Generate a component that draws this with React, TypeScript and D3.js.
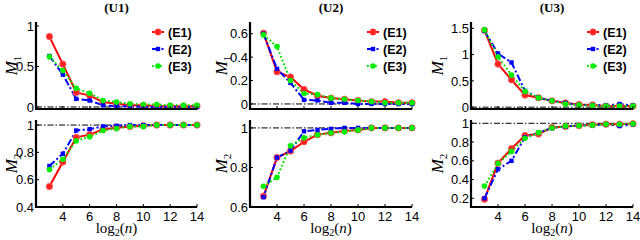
import React from "react";
import * as d3 from "d3";

const xs = [3, 4, 5, 6, 7, 8, 9, 10, 11, 12, 13, 14];
const xTicks = [4, 6, 8, 10, 12, 14];
const panelTitles = ["(U1)", "(U2)", "(U3)"];
const seriesNames = ["(E1)", "(E2)", "(E3)"];

// U1
const u1M1E1 = [0.87, 0.53, 0.18, 0.14, 0.06, 0.04, 0.02, 0.02, 0.01, 0.01, 0.01, 0.01];
const u1M1E2 = [0.63, 0.4, 0.1, 0.08, 0.02, 0.01, 0.01, 0.0, 0.0, 0.0, 0.0, 0.0];
const u1M1E3 = [0.62, 0.45, 0.23, 0.17, 0.08, 0.06, 0.04, 0.03, 0.03, 0.02, 0.02, 0.02];
const u1M2E1 = [0.55, 0.73, 0.91, 0.93, 0.97, 0.98, 0.99, 0.995, 1.0, 1.0, 1.0, 1.0];
const u1M2E2 = [0.7, 0.79, 0.96, 0.97, 0.99, 0.995, 1.0, 1.0, 1.0, 1.0, 1.0, 1.0];
const u1M2E3 = [0.675, 0.75, 0.885, 0.915, 0.96, 0.975, 0.99, 0.99, 1.0, 1.0, 1.0, 1.0];
// U2
const u2M1E1 = [0.605, 0.275, 0.23, 0.125, 0.07, 0.05, 0.04, 0.03, 0.02, 0.02, 0.01, 0.01];
const u2M1E2 = [0.6, 0.3, 0.18, 0.035, 0.03, 0.01, 0.01, 0.0, 0.0, 0.0, 0.0, 0.0];
const u2M1E3 = [0.59, 0.49, 0.2, 0.09, 0.08, 0.05, 0.04, 0.03, 0.02, 0.01, 0.01, 0.01];
const u2M2E1 = [0.655, 0.85, 0.883, 0.93, 0.966, 0.975, 0.985, 0.99, 1.0, 1.0, 1.0, 1.0];
const u2M2E2 = [0.65, 0.85, 0.885, 0.983, 0.99, 0.995, 1.0, 1.0, 1.0, 1.0, 1.0, 1.0];
const u2M2E3 = [0.705, 0.75, 0.91, 0.95, 0.965, 0.975, 0.98, 0.99, 1.0, 1.0, 1.0, 1.0];
// U3
const u3M1E1 = [1.46, 0.82, 0.52, 0.23, 0.18, 0.12, 0.08, 0.05, 0.04, 0.02, 0.02, 0.02];
const u3M1E2 = [1.45, 1.02, 0.85, 0.31, 0.18, 0.12, 0.08, 0.04, 0.04, 0.03, 0.06, 0.03];
const u3M1E3 = [1.47, 0.96, 0.61, 0.3, 0.18, 0.12, 0.06, 0.04, 0.03, 0.02, 0.02, 0.02];
const u3M2E1 = [0.19, 0.575, 0.73, 0.87, 0.885, 0.955, 0.965, 0.975, 0.985, 0.99, 0.99, 0.995];
const u3M2E2 = [0.2, 0.51, 0.6, 0.85, 0.9, 0.95, 0.965, 0.98, 0.98, 0.99, 0.97, 0.99];
const u3M2E3 = [0.33, 0.57, 0.7, 0.84, 0.9, 0.95, 0.97, 0.975, 0.98, 0.99, 0.99, 0.995];

const m1Ticks = [[0, 0.5, 1], [0, 0.2, 0.4, 0.6], [0, 0.5, 1, 1.5]];
const m2Ticks = [[0.4, 0.6, 0.8, 1], [0.6, 0.8, 1], [0.2, 0.4, 0.6, 0.8, 1]];
const m1Domains = [[-0.025, 1.05], [-0.043, 0.7], [-0.035, 1.62]];
const m2Domains = [[0.4, 1.037], [0.6, 1.04], [0.107, 1.035]];
const m1Ref = 0;
const m2Ref = 1;

const m1Data = [
  [u1M1E1, u1M1E2, u1M1E3],
  [u2M1E1, u2M1E2, u2M1E3],
  [u3M1E1, u3M1E2, u3M1E3],
];
const m2Data = [
  [u1M2E1, u1M2E2, u1M2E3],
  [u2M2E1, u2M2E2, u2M2E3],
  [u3M2E1, u3M2E2, u3M2E3],
];

// layout
const panelX = [[36, 197], [250, 412], [471, 633]];
const yLabelX = [11, 221, 437];
const topRange = [109, 22];
const botRange = [207, 120];
const legendX = [152, 367, 587];
const legendY = [32, 49, 66];

const colors = ["#ff0000", "#0000ff", "#00e000"];
const dashes = [null, "7,2.5,2,2.5", "1.8,2.2"];

const tickFont = "'Liberation Sans', Arial, sans-serif";
const serif = "'Liberation Serif', 'DejaVu Serif', serif";

function Marker({ k, x, y }: { k: number; x: number; y: number }) {
  if (k === 0)
    return <circle cx={x} cy={y} r={3.2} fill="#ff2020" stroke="#ff6060" strokeWidth={0.8} />;
  if (k === 1)
    return <rect x={x - 2.2} y={y - 2.2} width={4.4} height={4.4} fill="#0000ff" />;
  return <circle cx={x} cy={y} r={2.8} fill="#00ee00" />;
}

function Plot({
  xr, yr, domain, ticks, data, ref0, showXLabels, legend, lx,
}: any) {
  const x = d3.scaleLinear().domain([2, 14]).range(xr);
  const y = d3.scaleLinear().domain(domain).range(yr);
  const line = d3.line<number>().x((_, i) => x(xs[i])).y((v) => y(v));
  return (
    <g>
      <line x1={xr[0]} x2={xr[1]} y1={y(ref0)} y2={y(ref0)} stroke="#000" strokeWidth={1} strokeDasharray="6,2,1.5,2" />
      {data.map((s: number[], k: number) => (
        <path key={k} d={line(s) || ""} fill="none" stroke={colors[k]} strokeWidth={2} strokeDasharray={dashes[k] || undefined} />
      ))}
      {data.map((s: number[], k: number) =>
        s.map((v, i) => <Marker key={k + "-" + i} k={k} x={x(xs[i])} y={y(v)} />)
      )}
      <line x1={xr[0]} x2={xr[0]} y1={yr[0] + 1} y2={yr[1]} stroke="#000" strokeWidth={2.2} />
      <line x1={xr[0] - 1} x2={xr[1]} y1={yr[0]} y2={yr[0]} stroke="#000" strokeWidth={2.2} />
      {xTicks.map((t) => (
        <g key={"xt" + t}>
          <line x1={x(t)} x2={x(t)} y1={yr[0]} y2={yr[0] - 3} stroke="#000" strokeWidth={1} />
          {showXLabels && (
            <text x={x(t)} y={yr[0] + 14} textAnchor="middle" fontFamily={tickFont} fontSize={13}>{t}</text>
          )}
        </g>
      ))}
      {ticks.map((t: number) => (
        <g key={"yt" + t}>
          <line x1={xr[0]} x2={xr[0] + 3} y1={y(t)} y2={y(t)} stroke="#000" strokeWidth={1} />
          <text x={xr[0] - 2} y={y(t)} dy="0.36em" textAnchor="end" fontFamily={tickFont} fontSize={13}>{String(t)}</text>
        </g>
      ))}
      {legend && seriesNames.map((n, k) => (
        <g key={"lg" + k}>
          <line x1={lx} x2={lx + 12} y1={legendY[k]} y2={legendY[k]} stroke={colors[k]} strokeWidth={2} strokeDasharray={dashes[k] || undefined} />
          <Marker k={k} x={lx + 6} y={legendY[k]} />
          <text x={lx + 16} y={legendY[k]} dy="0.36em" fontFamily={tickFont} fontWeight="bold" fontSize={12.5}>{n}</text>
        </g>
      ))}
    </g>
  );
}

export default function App() {
  return (
    <svg width={640} height={240} style={{ position: "absolute", left: 0, top: 0, background: "#fff" }}>
      {panelX.map((xr, p) => {
        const cx = (xr[0] + xr[1]) / 2;
        return (
          <g key={p}>
            <text x={cx} y={12} textAnchor="middle" fontFamily={serif} fontWeight="bold" fontSize={13}>{panelTitles[p]}</text>
            <Plot xr={xr} yr={topRange} domain={m1Domains[p]} ticks={m1Ticks[p]} data={m1Data[p]} ref0={m1Ref} showXLabels={false} legend={true} lx={legendX[p]} />
            <Plot xr={xr} yr={botRange} domain={m2Domains[p]} ticks={m2Ticks[p]} data={m2Data[p]} ref0={m2Ref} showXLabels={true} legend={false} lx={0} />
            <text transform={`translate(${yLabelX[p]},${(topRange[0] + topRange[1]) / 2}) rotate(-90)`} textAnchor="middle" dy="0.35em" fontFamily={serif} fontSize={17}>
              <tspan fontStyle="italic">M</tspan><tspan fontSize={11} dy="4">1</tspan>
            </text>
            <text transform={`translate(${yLabelX[p]},${(botRange[0] + botRange[1]) / 2}) rotate(-90)`} textAnchor="middle" dy="0.35em" fontFamily={serif} fontSize={17}>
              <tspan fontStyle="italic">M</tspan><tspan fontSize={11} dy="4">2</tspan>
            </text>
            <text x={cx} y={233} textAnchor="middle" fontFamily={serif} fontSize={15}>
              <tspan>log</tspan><tspan fontSize={10} dy="3">2</tspan><tspan dy="-3">(</tspan><tspan fontStyle="italic">n</tspan><tspan>)</tspan>
            </text>
          </g>
        );
      })}
    </svg>
  );
}
